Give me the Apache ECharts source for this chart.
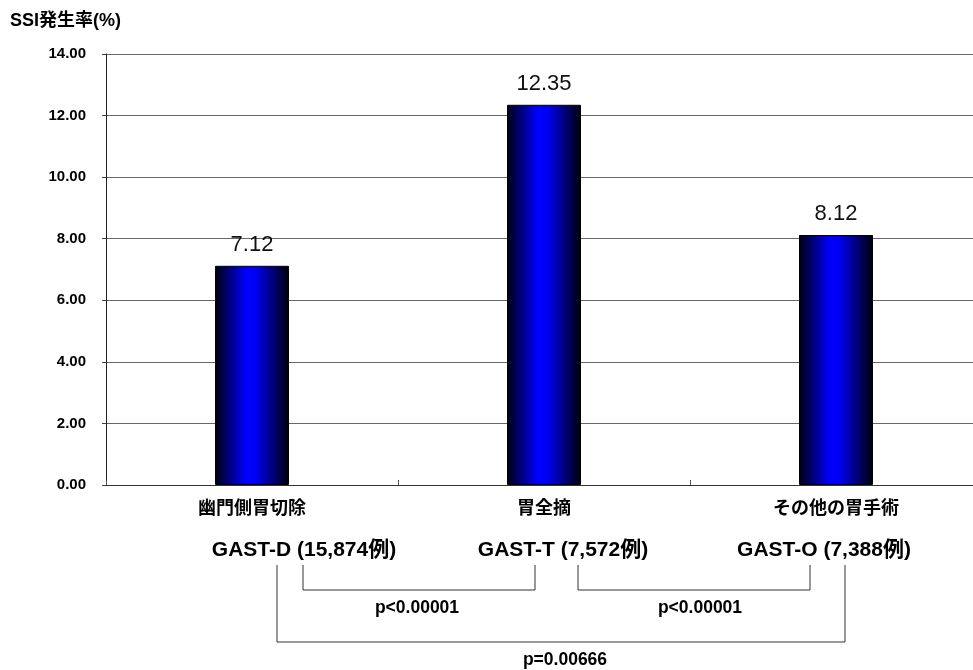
<!DOCTYPE html>
<html>
<head>
<meta charset="utf-8">
<script src="https://cdn.jsdelivr.net/npm/echarts@6/dist/echarts.min.js"></script>
<style>
  html, body { margin: 0; padding: 0; background: #fff; overflow: hidden; }
  #chart { width: 973px; height: 670px; }
</style>
</head>
<body>
<div id="chart"></div>
<script>
// SSI rate by gastric procedure
var categories = ['幽門側胃切除', '胃全摘', 'その他の胃手術'];
var ssiRates = [7.12, 12.35, 8.12];
var groupLabels = ['GAST-D (15,874例)', 'GAST-T (7,572例)', 'GAST-O (7,388例)'];
var pValues = ['p<0.00001', 'p<0.00001', 'p=0.00666'];
var yTicks = [0, 2, 4, 6, 8, 10, 12, 14];

var FONT = '"Liberation Sans", Arial, "Noto Sans CJK JP", sans-serif';

var chart = echarts.init(document.getElementById('chart'), null, { renderer: 'canvas' });

var barFill = new echarts.graphic.LinearGradient(0, 0, 1, 0, [
  { offset: 0, color: '#000010' },
  { offset: 0.42, color: '#0000ff' },
  { offset: 0.55, color: '#0000f0' },
  { offset: 1, color: '#000008' }
]);

function bracket(x1, x2, yTop, yBottom) {
  return {
    type: 'polyline',
    silent: true,
    shape: { points: [[x1, yTop], [x1, yBottom], [x2, yBottom], [x2, yTop]] },
    style: { stroke: '#333', lineWidth: 1, fill: null }
  };
}

function label(text, x, y, size) {
  return {
    type: 'text',
    silent: true,
    x: x, y: y,
    style: {
      text: text, fill: '#000', font: 'bold ' + size + 'px ' + FONT,
      textAlign: 'center', textVerticalAlign: 'middle'
    }
  };
}

var option = {
  animation: false,
  backgroundColor: '#fff',
  // the plot area runs a little past the right edge of the page
  grid: {
    left: 106, width: 876, top: 54, bottom: 185,
    containLabel: false, outerBoundsMode: 'none'
  },
  xAxis: {
    type: 'category',
    data: categories,
    axisLine: { lineStyle: { color: '#333', width: 1 } },
    axisTick: { show: true, inside: true, length: 5, lineStyle: { color: '#555' } },
    axisLabel: {
      margin: 15, color: '#000', fontSize: 18, fontWeight: 'bold', fontFamily: FONT
    }
  },
  yAxis: {
    type: 'value',
    min: yTicks[0],
    max: yTicks[yTicks.length - 1],
    interval: yTicks[1] - yTicks[0],
    name: 'SSI発生率(%)',
    nameLocation: 'end',
    nameGap: 0,
    nameTextStyle: {
      color: '#000', fontSize: 18, fontWeight: 'bold', fontFamily: FONT,
      align: 'left', padding: [0, 0, 24, -96]
    },
    axisLine: { show: true, lineStyle: { color: '#222', width: 1 } },
    axisTick: { show: true, length: 4, lineStyle: { color: '#444' } },
    axisLabel: {
      margin: 20, color: '#000', fontSize: 15, fontWeight: 'bold', fontFamily: FONT,
      formatter: function (v) { return v.toFixed(2); }
    },
    splitLine: { show: true, lineStyle: { color: '#666', width: 1 } }
  },
  series: [{
    type: 'bar',
    data: ssiRates,
    barWidth: 74,
    itemStyle: { color: barFill, borderColor: '#000', borderWidth: 1 },
    label: {
      show: true, position: 'top', distance: 10,
      color: '#111', fontSize: 22, fontFamily: FONT,
      formatter: function (p) { return p.value.toFixed(2); }
    }
  }],
  graphic: [
    label(groupLabels[0], 304, 550, 21),
    label(groupLabels[1], 563, 550, 21),
    label(groupLabels[2], 824, 550, 21),
    bracket(303, 535, 565, 590),
    bracket(578, 810, 565, 590),
    bracket(277, 845, 565, 642),
    label(pValues[0], 417, 608, 17.5),
    label(pValues[1], 700, 608, 17.5),
    label(pValues[2], 565, 660, 17.5)
  ]
};

chart.setOption(option);
</script>
</body>
</html>
